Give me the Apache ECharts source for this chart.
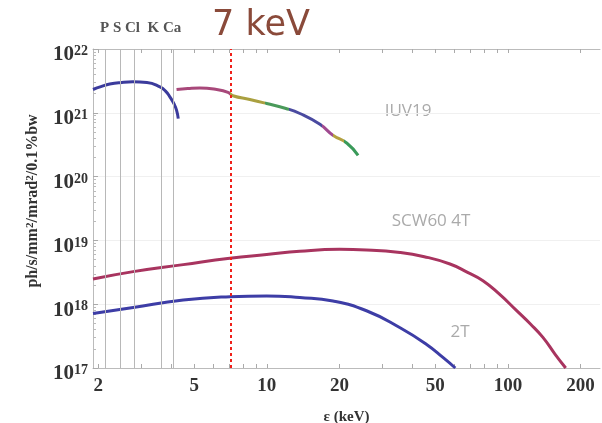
<!DOCTYPE html>
<html><head><meta charset="utf-8">
<script src="https://cdn.jsdelivr.net/npm/echarts@6/dist/echarts.min.js"></script>
<style>html,body{margin:0;padding:0;background:#fff}#c{width:602px;height:423px}</style>
</head><body><div id="c"></div>
<script>
// ---- data (energies in keV, flux in ph/s/mm²/mrad²/0.1%bw) ----
const xTickLabels = [2, 5, 10, 20, 50, 100, 200];
const xMinorTicks = [2, 3, 4, 5, 6, 7, 8, 9, 10, 20, 30, 40, 50, 60, 70, 80, 90, 100, 200];
const yTickExponents = [17, 18, 19, 20, 21, 22];
const edgeNames = ['P', 'S', 'Cl', 'K', 'Ca'];
const edgeEnergies = [2.145, 2.472, 2.822, 3.607, 4.038];
const markerEnergy = 7;

const iuv19LowE = [1.90, 2.05, 2.23, 2.50, 2.78, 3.18, 3.60, 3.80, 3.96, 4.12, 4.22, 4.29];
const iuv19LowFlux = [2.32e21, 2.57e21, 2.82e21, 2.99e21, 3.06e21, 2.99e21, 2.55e21, 2.19e21, 1.78e21, 1.38e21, 1.10e21, 8.1e20];

const iuv19HighE = [4.22, 4.7, 5.27, 6.19, 6.9, 7.23, 8.5, 9.98, 12.0, 13.71, 16.6, 18.8, 21.5, 23.9];
const iuv19HighFlux = [2.32e21, 2.40e21, 2.45e21, 2.32e21, 2.09e21, 1.85e21, 1.62e21, 1.40e21, 1.17e21, 9.75e20, 6.6e20, 4.45e20, 3.33e20, 2.15e20];

const scw60E = [1.9, 2.79, 4.5, 7.02, 9.98, 13.7, 20, 25.9, 35.7, 45, 57.5, 68, 78.8, 92, 108.7, 124, 139.7, 157, 173.7];
const scw60Flux = [2.48e18, 3.24e18, 4.17e18, 5.25e18, 6.0e18, 6.76e18, 7.24e18, 7.08e18, 6.46e18, 5.56e18, 4.27e18, 3.16e18, 2.34e18, 1.45e18, 7.94e17, 4.9e17, 3.02e17, 1.64e17, 1.0e17];

const t2E = [1.9, 2.79, 4.5, 7.02, 9.98, 13.7, 18.8, 25.9, 35.7, 46, 53.9, 60.5];
const t2Flux = [7.14e17, 8.9e17, 1.16e18, 1.31e18, 1.35e18, 1.27e18, 1.12e18, 7.9e17, 4.27e17, 2.34e17, 1.45e17, 1.0e17];

// ---- helpers ----
const L = Math.log10;
const pts = (xs, ys) => xs.map((x, i) => [L(x), L(ys[i])]);
const serif = '"Liberation Serif", "DejaVu Serif", serif';

const chart = echarts.init(document.getElementById('c'), null, {renderer: 'canvas'});

const edgeLines = edgeEnergies.map(e => ({xAxis: L(e), lineStyle: {color: '#b8b8b8', width: 1, type: 'solid'}}));
const markerLine = {xAxis: L(markerEnergy), lineStyle: {color: '#f0201a', width: 2, type: [3, 3]}};
const yMinor = yTickExponents.slice(0, -1).flatMap(n => [2, 3, 4, 5, 6, 7, 8, 9].map(k => L(k) + n));

const lineBase = {type: 'line', showSymbol: false, smooth: 0.5};

const option = {
  animation: false,
  backgroundColor: '#fff',
  grid: {left: 93, right: 2, top: 49, bottom: 55, containLabel: false, outerBoundsMode: 'none'},
  xAxis: [{
    type: 'value', min: L(1.9), max: L(241),
    axisLine: {show: true, lineStyle: {color: '#bbb'}},
    axisTick: {show: true, inside: true, length: 4, customValues: xMinorTicks.map(L), lineStyle: {color: '#aaa'}},
    axisLabel: {customValues: xTickLabels.map(L), formatter: v => String(Math.round(Math.pow(10, v))),
      fontFamily: serif, fontSize: 19, fontWeight: 'bold', color: '#333', margin: 9},
    splitLine: {show: false},
    name: 'ε (keV)', nameLocation: 'middle', nameGap: 42,
    nameTextStyle: {fontFamily: serif, fontSize: 15, fontWeight: 'bold', color: '#333'}
  }, {
    type: 'value', position: 'top', min: L(1.9), max: L(241),
    axisLine: {show: true, lineStyle: {color: '#bbb'}},
    axisTick: {show: true, inside: true, length: 4, customValues: xMinorTicks.map(L), lineStyle: {color: '#aaa'}},
    axisLabel: {show: false}, splitLine: {show: false}
  }],
  yAxis: [{
    type: 'value', min: 17, max: 22, interval: 1,
    axisLine: {show: true, lineStyle: {color: '#bbb'}},
    axisTick: {show: true, inside: true, length: 5, lineStyle: {color: '#aaa'}},
    axisLabel: {
      formatter: v => '{b|10}{s|' + Math.round(v) + '}',
      margin: 5,
      padding: [12, 0, 0, 0],
      rich: {
        b: {fontFamily: serif, fontSize: 21, fontWeight: 'bold', color: '#333'},
        s: {fontFamily: serif, fontSize: 14, fontWeight: 'bold', color: '#333', verticalAlign: 'top'}
      }
    },
    splitLine: {show: true, lineStyle: {color: '#f0f0f0', width: 1}}
  }, {
    type: 'value', min: 17, max: 22, position: 'left',
    axisLine: {show: false},
    axisTick: {show: true, inside: true, length: 3, customValues: yMinor, lineStyle: {color: '#bbb'}},
    axisLabel: {show: false}, splitLine: {show: false}
  }],
  visualMap: {
    type: 'piecewise', show: false, dimension: 0, seriesIndex: 1,
    pieces: [
      {lt: L(7.0), color: '#a8487a'},
      {gte: L(7.0), lt: L(9.8), color: '#aaa040'},
      {gte: L(9.8), lt: L(12.4), color: '#4a9a5a'},
      {gte: L(12.4), lt: L(16.9), color: '#4a4aa0'},
      {gte: L(16.9), lt: L(18.8), color: '#a04a90'},
      {gte: L(18.8), lt: L(20.9), color: '#b4a040'},
      {gte: L(20.9), color: '#3a9a5a'}
    ]
  },
  series: [
    Object.assign({name: 'IUV19 low', data: pts(iuv19LowE, iuv19LowFlux), lineStyle: {color: '#3b3b9c', width: 3}}, lineBase),
    Object.assign({name: 'IUV19 high', data: pts(iuv19HighE, iuv19HighFlux), lineStyle: {width: 3}}, lineBase),
    Object.assign({name: 'SCW60 4T', data: pts(scw60E, scw60Flux), lineStyle: {color: '#a8345f', width: 3},
      markLine: {silent: true, symbol: 'none', label: {show: false}, data: edgeLines.concat([markerLine])}}, lineBase),
    Object.assign({name: '2T', data: pts(t2E, t2Flux), lineStyle: {color: '#3d3da6', width: 3}}, lineBase)
  ],
  graphic: [
    {type: 'text', x: 100, y: 28, style: {text: 'P S Cl  K Ca', font: 'bold 15px ' + serif, fill: '#555', textVerticalAlign: 'middle'}},
    {type: 'text', x: 212, y: 26, style: {text: '7 keV', font: '35px "DejaVu Sans"', fill: '#8a4a3a', textVerticalAlign: 'middle'}},
    {type: 'text', x: 33, y: 201, rotation: Math.PI / 2,
      style: {text: '{n|ph/s/mm}{s|2}{n|/mrad}{s|2}{n|/0.1%bw}', textAlign: 'center', textVerticalAlign: 'middle',
        rich: {
          n: {fontFamily: serif, fontSize: 16, fontWeight: 'bold', fill: '#333', color: '#333'},
          s: {fontFamily: serif, fontSize: 11, fontWeight: 'bold', fill: '#333', color: '#333', verticalAlign: 'top'}
        }}},
    {type: 'text', x: 408, y: 111, style: {text: 'IUV19', font: '17px "Open Sans"', fill: '#aaa', textAlign: 'center', textVerticalAlign: 'middle'}},
    {type: 'text', x: 431, y: 221, style: {text: 'SCW60 4T', font: '17px "Open Sans"', fill: '#aaa', textAlign: 'center', textVerticalAlign: 'middle'}},
    {type: 'text', x: 460, y: 332, style: {text: '2T', font: '17px "Open Sans"', fill: '#aaa', textAlign: 'center', textVerticalAlign: 'middle'}}
  ]
};
chart.setOption(option);
</script>
</body></html>
